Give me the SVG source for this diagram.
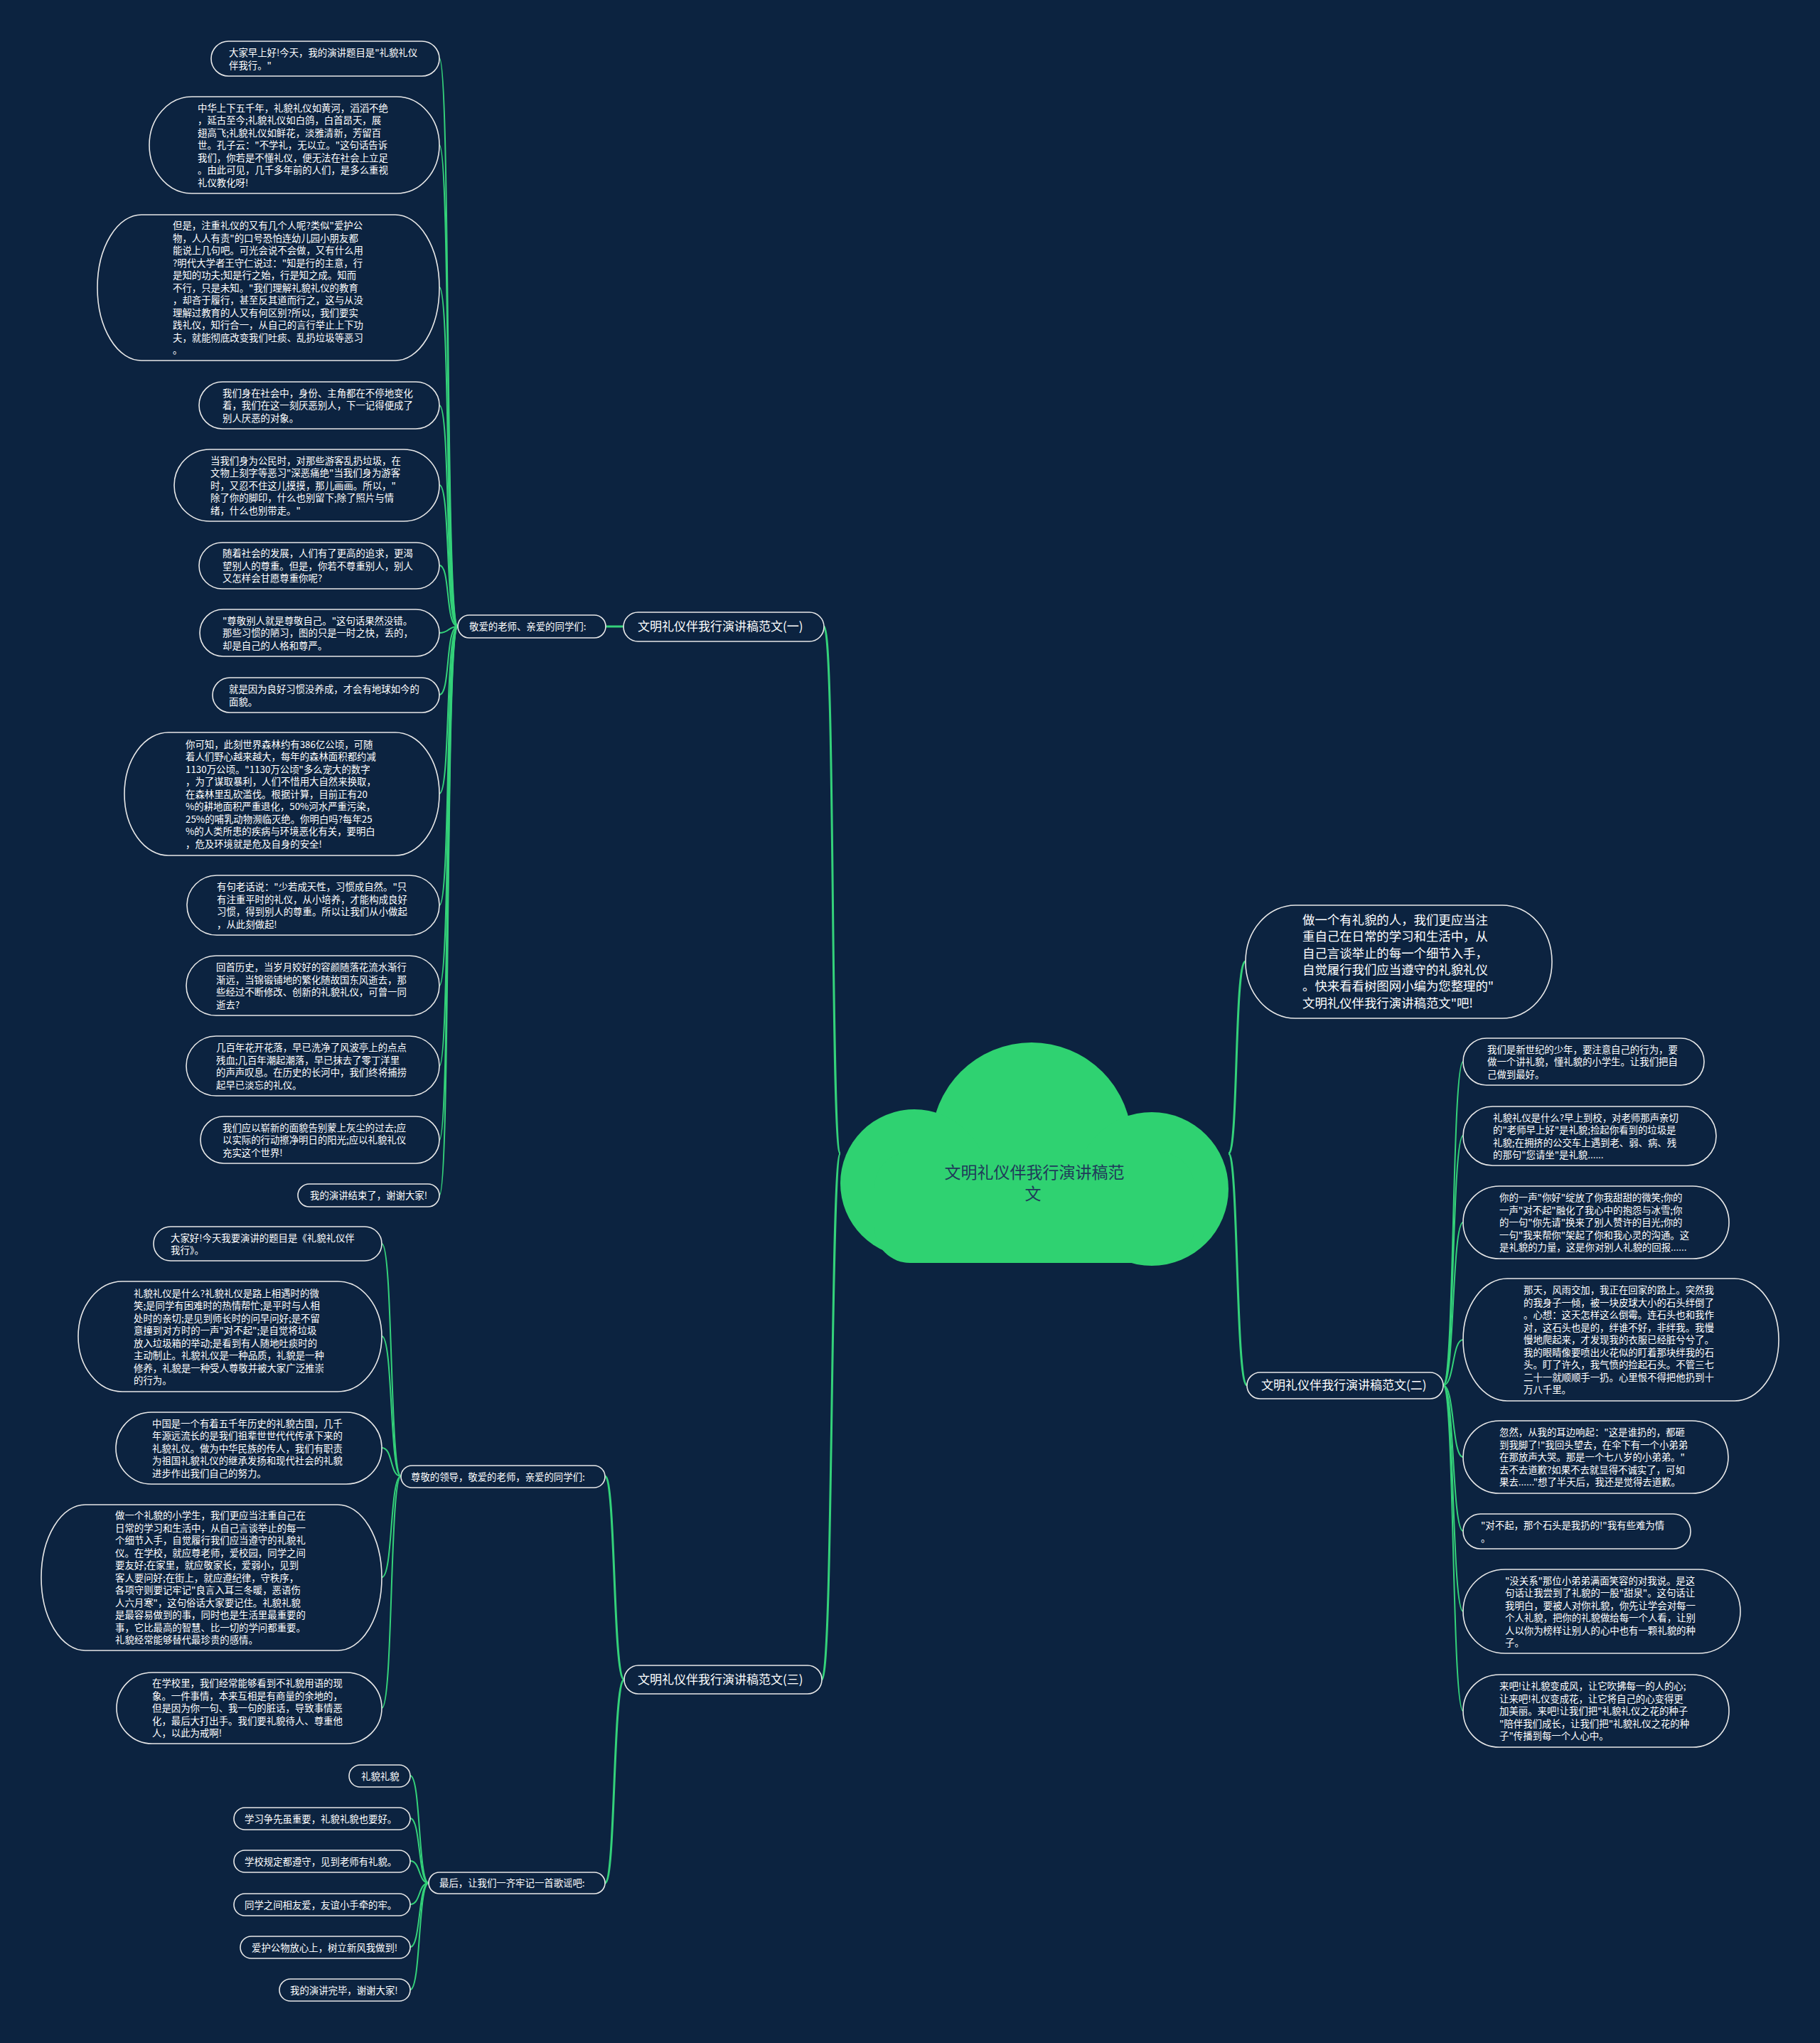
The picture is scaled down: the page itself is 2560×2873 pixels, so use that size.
<svg xmlns="http://www.w3.org/2000/svg" width="2560" height="2873" viewBox="0 0 2560 2873">
<style>
.bg{fill:#0c2340}
.n rect{fill:#0c2340;stroke:#e8e8e8;stroke-width:1.6}
.t{font-family:"Noto Sans CJK SC","Noto Sans",sans-serif;font-size:13.4px;fill:#ffffff}
.tb{font-family:"Noto Sans CJK SC","Noto Sans",sans-serif;font-size:17px;fill:#ffffff}
.tr{font-family:"Noto Sans CJK SC","Noto Sans",sans-serif;font-size:17.4px;fill:#ffffff}
.c path{fill:none;stroke:#34d27a;stroke-width:2}
.c path.k{stroke-width:3}
</style>
<rect class="bg" x="0" y="0" width="2560" height="2873"/>
<g id="connectors" class="c">
<path class="k" d="M1182 1622 C1168 1622 1175 881 1159 881"/>
<path class="k" d="M1182 1622 C1168 1622 1172 2362 1156 2362"/>
<path class="k" d="M1728 1622 C1742 1622 1736 1352 1752 1352"/>
<path class="k" d="M1728 1622 C1742 1622 1738 1948 1754 1948"/>
<path class="k" d="M877 881 L852 881"/>
<path class="k" d="M878 2362 C862 2362 866 2076 851 2076"/>
<path class="k" d="M878 2362 C862 2362 866 2648 851 2648"/>
<path d="M644 881 C626 881 634 82 618 82"/>
<path d="M644 881 C626 881 634 204 618 204"/>
<path d="M644 881 C626 881 634 404 618 404"/>
<path d="M644 881 C626 881 634 570 618 570"/>
<path d="M644 881 C626 881 634 682 618 682"/>
<path d="M644 881 C626 881 634 795 618 795"/>
<path d="M644 881 C630 881 632 890 618 890"/>
<path d="M644 881 C626 881 634 977 618 977"/>
<path d="M644 881 C626 881 634 1116 618 1116"/>
<path d="M644 881 C626 881 634 1273 618 1273"/>
<path d="M644 881 C626 881 634 1386 618 1386"/>
<path d="M644 881 C626 881 634 1499 618 1499"/>
<path d="M644 881 C626 881 634 1603 618 1603"/>
<path d="M644 881 C626 881 634 1681 618 1681"/>
<path d="M2030 1948 C2046 1948 2042 1493 2058 1493"/>
<path d="M2030 1948 C2046 1948 2042 1597 2058 1597"/>
<path d="M2030 1948 C2046 1948 2042 1719 2058 1719"/>
<path d="M2030 1948 C2046 1948 2042 1884 2058 1884"/>
<path d="M2030 1948 C2046 1948 2042 2049 2058 2049"/>
<path d="M2030 1948 C2046 1948 2042 2153 2058 2153"/>
<path d="M2030 1948 C2046 1948 2042 2266 2058 2266"/>
<path d="M2030 1948 C2046 1948 2042 2406 2058 2406"/>
<path d="M564 2076 C548 2076 553 1749 537 1749"/>
<path d="M564 2076 C548 2076 553 1879 537 1879"/>
<path d="M564 2076 C548 2076 553 2036 537 2036"/>
<path d="M564 2076 C548 2076 553 2218 537 2218"/>
<path d="M564 2076 C548 2076 553 2402 537 2402"/>
<path d="M603 2648 C588 2648 592 2497 577 2497"/>
<path d="M603 2648 C588 2648 592 2557 577 2557"/>
<path d="M603 2648 C588 2648 592 2617 577 2617"/>
<path d="M603 2648 C588 2648 592 2678 577 2678"/>
<path d="M603 2648 C588 2648 592 2738 577 2738"/>
<path d="M603 2648 C588 2648 592 2798 577 2798"/>
</g>
<g id="center">
<g fill="#2fd271">
<circle cx="1451" cy="1607" r="141"/>
<circle cx="1286" cy="1664" r="104"/>
<circle cx="1620" cy="1672" r="108"/>
<rect x="1230" y="1620" width="450" height="156" rx="50"/>
</g>
<text font-family="Noto Sans CJK SC, Noto Sans, sans-serif" font-size="23" fill="#1f3a5a" text-anchor="middle"><tspan x="1455" y="1657">文明礼仪伴我行演讲稿范</tspan><tspan x="1453" y="1687">文</tspan></text>
</g>
<g id="b1" class="n"><rect x="877" y="861" width="282" height="41" rx="20.5"/><text class="tb" x="897" y="887">文明礼仪伴我行演讲稿范文(一)</text></g>
<g id="b2" class="n"><rect x="1754" y="1930" width="276" height="37" rx="18.5"/><text class="tb" x="1774" y="1954">文明礼仪伴我行演讲稿范文(二)</text></g>
<g id="b3" class="n"><rect x="878" y="2342" width="278" height="40" rx="20"/><text class="tb" x="897" y="2368">文明礼仪伴我行演讲稿范文(三)</text></g>
<g id="l1" class="n"><rect x="644" y="865" width="208" height="32" rx="16"/><text class="t" x="660" y="886">敬爱的老师、亲爱的同学们:</text></g>
<g id="l3a" class="n"><rect x="564" y="2061" width="287" height="31" rx="15.5"/><text class="t" x="578" y="2081.5">尊敬的领导，敬爱的老师，亲爱的同学们:</text></g>
<g id="l3b" class="n"><rect x="603" y="2633" width="248" height="30" rx="15"/><text class="t" x="618" y="2653">最后，让我们一齐牢记一首歌谣吧:</text></g>
<g id="a1" class="n"><rect x="297" y="58" width="321" height="49" rx="24.5"/><text class="t" x="322" y="79"><tspan x="322">大家早上好!今天，我的演讲题目是"礼貌礼仪</tspan><tspan x="322" dy="17.5">伴我行。"</tspan></text></g>
<g id="a2" class="n"><rect x="210" y="136" width="408" height="136" rx="60" ry="68"/><text class="t" y="156.5"><tspan x="278">中华上下五千年，礼貌礼仪如黄河，滔滔不绝</tspan><tspan x="278" dy="17.5">，延古至今;礼貌礼仪如白鸽，白首昂天，展</tspan><tspan x="278" dy="17.5">翅高飞;礼貌礼仪如鲜花，淡雅清新，芳留百</tspan><tspan x="278" dy="17.5">世。孔子云："不学礼，无以立。"这句话告诉</tspan><tspan x="278" dy="17.5">我们，你若是不懂礼仪，便无法在社会上立足</tspan><tspan x="278" dy="17.5">。由此可见，几千多年前的人们，是多么重视</tspan><tspan x="278" dy="17.5">礼仪教化呀!</tspan></text></g>
<g id="a3" class="n"><rect x="137" y="302" width="481" height="205" rx="62" ry="102.5"/><text class="t" y="322"><tspan x="243">但是，注重礼仪的又有几个人呢?类似"爱护公</tspan><tspan x="243" dy="17.5">物，人人有责"的口号恐怕连幼儿园小朋友都</tspan><tspan x="243" dy="17.5">能说上几句吧。可光会说不会做，又有什么用</tspan><tspan x="243" dy="17.5">?明代大学者王守仁说过："知是行的主意，行</tspan><tspan x="243" dy="17.5">是知的功夫;知是行之始，行是知之成。知而</tspan><tspan x="243" dy="17.5">不行，只是未知。"我们理解礼貌礼仪的教育</tspan><tspan x="243" dy="17.5">，却吝于履行，甚至反其道而行之，这与从没</tspan><tspan x="243" dy="17.5">理解过教育的人又有何区别?所以，我们要实</tspan><tspan x="243" dy="17.5">践礼仪，知行合一，从自己的言行举止上下功</tspan><tspan x="243" dy="17.5">夫，就能彻底改变我们吐痰、乱扔垃圾等恶习</tspan><tspan x="243" dy="17.5">。</tspan></text></g>
<g id="a4" class="n"><rect x="280" y="537" width="338" height="66" rx="33"/><text class="t" y="557.5"><tspan x="313">我们身在社会中，身份、主角都在不停地变化</tspan><tspan x="313" dy="17.5">着，我们在这一刻厌恶别人，下一记得便成了</tspan><tspan x="313" dy="17.5">别人厌恶的对象。</tspan></text></g>
<g id="a5" class="n"><rect x="245" y="632" width="373" height="101" rx="50" ry="50.5"/><text class="t" y="652.5"><tspan x="296">当我们身为公民时，对那些游客乱扔垃圾，在</tspan><tspan x="296" dy="17.5">文物上刻字等恶习"深恶痛绝"当我们身为游客</tspan><tspan x="296" dy="17.5">时，又忍不住这儿摸摸，那儿画画。所以，"</tspan><tspan x="296" dy="17.5">除了你的脚印，什么也别留下;除了照片与情</tspan><tspan x="296" dy="17.5">绪，什么也别带走。"</tspan></text></g>
<g id="a6" class="n"><rect x="280" y="763" width="338" height="65" rx="32.5"/><text class="t" y="783"><tspan x="313">随着社会的发展，人们有了更高的追求，更渴</tspan><tspan x="313" dy="17.5">望别人的尊重。但是，你若不尊重别人，别人</tspan><tspan x="313" dy="17.5">又怎样会甘愿尊重你呢?</tspan></text></g>
<g id="a7" class="n"><rect x="281" y="857" width="337" height="66" rx="33"/><text class="t" y="877.5"><tspan x="313">"尊敬别人就是尊敬自己。"这句话果然没错。</tspan><tspan x="313" dy="17.5">那些习惯的陋习，图的只是一时之快，丢的，</tspan><tspan x="313" dy="17.5">却是自己的人格和尊严。</tspan></text></g>
<g id="a8" class="n"><rect x="299" y="953" width="319" height="49" rx="24.5"/><text class="t" y="974"><tspan x="322">就是因为良好习惯没养成，才会有地球如今的</tspan><tspan x="322" dy="17.5">面貌。</tspan></text></g>
<g id="a9" class="n"><rect x="175" y="1030" width="443" height="173" rx="62" ry="86.5"/><text class="t" y="1051.5"><tspan x="261">你可知，此刻世界森林约有386亿公顷，可随</tspan><tspan x="261" dy="17.5">着人们野心越来越大，每年的森林面积都约减</tspan><tspan x="261" dy="17.5">1130万公顷。"1130万公顷"多么宠大的数字</tspan><tspan x="261" dy="17.5">，为了谋取暴利，人们不惜用大自然来换取，</tspan><tspan x="261" dy="17.5">在森林里乱砍滥伐。根据计算，目前正有20</tspan><tspan x="261" dy="17.5">%的耕地面积严重退化，50%河水严重污染，</tspan><tspan x="261" dy="17.5">25%的哺乳动物濒临灭绝。你明白吗?每年25</tspan><tspan x="261" dy="17.5">%的人类所患的疾病与环境恶化有关，要明白</tspan><tspan x="261" dy="17.5">，危及环境就是危及自身的安全!</tspan></text></g>
<g id="a10" class="n"><rect x="263" y="1231" width="355" height="84" rx="42"/><text class="t" y="1252"><tspan x="305">有句老话说："少若成天性，习惯成自然。"只</tspan><tspan x="305" dy="17.5">有注重平时的礼仪，从小培养，才能构成良好</tspan><tspan x="305" dy="17.5">习惯，得到别人的尊重。所以让我们从小做起</tspan><tspan x="305" dy="17.5">，从此刻做起!</tspan></text></g>
<g id="a11" class="n"><rect x="262" y="1344" width="356" height="84" rx="42"/><text class="t" y="1365"><tspan x="304">回首历史，当岁月姣好的容颜随落花流水渐行</tspan><tspan x="304" dy="17.5">渐远，当锦锻铺地的繁化随故国东风逝去，那</tspan><tspan x="304" dy="17.5">些经过不断修改、创新的礼貌礼仪，可曾一同</tspan><tspan x="304" dy="17.5">逝去?</tspan></text></g>
<g id="a12" class="n"><rect x="262" y="1457" width="356" height="84" rx="42"/><text class="t" y="1478"><tspan x="304">几百年花开花落，早已洗净了风波亭上的点点</tspan><tspan x="304" dy="17.5">残血;几百年潮起潮落，早已抹去了零丁洋里</tspan><tspan x="304" dy="17.5">的声声叹息。在历史的长河中，我们终将捕捞</tspan><tspan x="304" dy="17.5">起早已淡忘的礼仪。</tspan></text></g>
<g id="a13" class="n"><rect x="282" y="1570" width="336" height="66" rx="33"/><text class="t" y="1590.5"><tspan x="313">我们应以崭新的面貌告别蒙上灰尘的过去;应</tspan><tspan x="313" dy="17.5">以实际的行动擦净明日的阳光;应以礼貌礼仪</tspan><tspan x="313" dy="17.5">充实这个世界!</tspan></text></g>
<g id="a14" class="n"><rect x="419" y="1665" width="199" height="32" rx="16"/><text class="t" x="436" y="1686">我的演讲结束了，谢谢大家!</text></g>
<g id="r0" class="n"><rect x="1752" y="1273" width="431" height="159" rx="70" ry="79.5"/><text class="tr" y="1300"><tspan x="1832">做一个有礼貌的人，我们更应当注</tspan><tspan x="1832" dy="23.3">重自己在日常的学习和生活中，从</tspan><tspan x="1832" dy="23.3">自己言谈举止的每一个细节入手，</tspan><tspan x="1832" dy="23.3">自觉履行我们应当遵守的礼貌礼仪</tspan><tspan x="1832" dy="23.3">。快来看看树图网小编为您整理的"</tspan><tspan x="1832" dy="23.3">文明礼仪伴我行演讲稿范文"吧!</tspan></text></g>
<g id="r1" class="n"><rect x="2058" y="1460" width="339" height="66" rx="33"/><text class="t" y="1480.5"><tspan x="2092">我们是新世纪的少年，要注意自己的行为，要</tspan><tspan x="2092" dy="17.5">做一个讲礼貌，懂礼貌的小学生。让我们把自</tspan><tspan x="2092" dy="17.5">己做到最好。</tspan></text></g>
<g id="r2" class="n"><rect x="2058" y="1556" width="356" height="83" rx="41.5"/><text class="t" y="1576.5"><tspan x="2100">礼貌礼仪是什么?早上到校，对老师那声亲切</tspan><tspan x="2100" dy="17.5">的"老师早上好"是礼貌;捡起你看到的垃圾是</tspan><tspan x="2100" dy="17.5">礼貌;在拥挤的公交车上遇到老、弱、病、残</tspan><tspan x="2100" dy="17.5">的那句"您请坐"是礼貌......</tspan></text></g>
<g id="r3" class="n"><rect x="2058" y="1668" width="374" height="102" rx="51"/><text class="t" y="1689"><tspan x="2109">你的一声"你好"绽放了你我甜甜的微笑;你的</tspan><tspan x="2109" dy="17.5">一声"对不起"融化了我心中的抱怨与冰雪;你</tspan><tspan x="2109" dy="17.5">的一句"你先请"换来了别人赞许的目光;你的</tspan><tspan x="2109" dy="17.5">一句"我来帮你"架起了你和我心灵的沟通。这</tspan><tspan x="2109" dy="17.5">是礼貌的力量，这是你对别人礼貌的回报......</tspan></text></g>
<g id="r4" class="n"><rect x="2058" y="1798" width="444" height="172" rx="62" ry="86"/><text class="t" y="1819"><tspan x="2143">那天，风雨交加，我正在回家的路上。突然我</tspan><tspan x="2143" dy="17.5">的我身子一倾，被一块皮球大小的石头绊倒了</tspan><tspan x="2143" dy="17.5">。心想：这天怎样这么倒霉。连石头也和我作</tspan><tspan x="2143" dy="17.5">对，这石头也是的，绊谁不好，非绊我。我慢</tspan><tspan x="2143" dy="17.5">慢地爬起来，才发现我的衣服已经脏兮兮了。</tspan><tspan x="2143" dy="17.5">我的眼睛像要喷出火花似的盯着那块绊我的石</tspan><tspan x="2143" dy="17.5">头。盯了许久，我气愤的捡起石头。不管三七</tspan><tspan x="2143" dy="17.5">二十一就顺顺手一扔。心里恨不得把他扔到十</tspan><tspan x="2143" dy="17.5">万八千里。</tspan></text></g>
<g id="r5" class="n"><rect x="2058" y="1998" width="373" height="102" rx="51"/><text class="t" y="2019"><tspan x="2109">忽然，从我的耳边响起："这是谁扔的，都砸</tspan><tspan x="2109" dy="17.5">到我脚了!"我回头望去，在伞下有一个小弟弟</tspan><tspan x="2109" dy="17.5">在那放声大哭。那是一个七八岁的小弟弟。"</tspan><tspan x="2109" dy="17.5">去不去道歉?如果不去就显得不诚实了，可如</tspan><tspan x="2109" dy="17.5">果去......"想了半天后，我还是觉得去道歉。</tspan></text></g>
<g id="r6" class="n"><rect x="2058" y="2129" width="320" height="49" rx="24.5"/><text class="t" y="2150"><tspan x="2083">"对不起，那个石头是我扔的!"我有些难为情</tspan><tspan x="2083" dy="17.5">。</tspan></text></g>
<g id="r7" class="n"><rect x="2058" y="2207" width="390" height="118" rx="59"/><text class="t" y="2227.5"><tspan x="2117">"没关系"那位小弟弟满面笑容的对我说。是这</tspan><tspan x="2117" dy="17.5">句话让我尝到了礼貌的一股"甜泉"。这句话让</tspan><tspan x="2117" dy="17.5">我明白，要被人对你礼貌，你先让学会对每一</tspan><tspan x="2117" dy="17.5">个人礼貌，把你的礼貌做给每一个人看，让别</tspan><tspan x="2117" dy="17.5">人以你为榜样让别人的心中也有一颗礼貌的种</tspan><tspan x="2117" dy="17.5">子。</tspan></text></g>
<g id="r8" class="n"><rect x="2058" y="2355" width="374" height="102" rx="51"/><text class="t" y="2376"><tspan x="2109">来吧!让礼貌变成风，让它吹拂每一的人的心;</tspan><tspan x="2109" dy="17.5">让来吧!礼仪变成花，让它将自己的心变得更</tspan><tspan x="2109" dy="17.5">加美丽。来吧!让我们把"礼貌礼仪之花的种子</tspan><tspan x="2109" dy="17.5">"陪伴我们成长，让我们把"礼貌礼仪之花的种</tspan><tspan x="2109" dy="17.5">子"传播到每一个人心中。</tspan></text></g>
<g id="c1" class="n"><rect x="216" y="1725" width="321" height="48" rx="24"/><text class="t" y="1745.5"><tspan x="240">大家好!今天我要演讲的题目是《礼貌礼仪伴</tspan><tspan x="240" dy="17.5">我行》。</tspan></text></g>
<g id="c2" class="n"><rect x="110" y="1802" width="427" height="155" rx="62" ry="77.5"/><text class="t" y="1823.5"><tspan x="188">礼貌礼仪是什么?礼貌礼仪是路上相遇时的微</tspan><tspan x="188" dy="17.5">笑;是同学有困难时的热情帮忙;是平时与人相</tspan><tspan x="188" dy="17.5">处时的亲切;是见到师长时的问早问好;是不留</tspan><tspan x="188" dy="17.5">意撞到对方时的一声"对不起";是自觉将垃圾</tspan><tspan x="188" dy="17.5">放入垃圾箱的举动;是看到有人随地吐痰时的</tspan><tspan x="188" dy="17.5">主动制止。礼貌礼仪是一种品质，礼貌是一种</tspan><tspan x="188" dy="17.5">修养，礼貌是一种受人尊敬并被大家广泛推崇</tspan><tspan x="188" dy="17.5">的行为。</tspan></text></g>
<g id="c3" class="n"><rect x="163" y="1986" width="374" height="101" rx="50" ry="50.5"/><text class="t" y="2006.5"><tspan x="214">中国是一个有着五千年历史的礼貌古国，几千</tspan><tspan x="214" dy="17.5">年源远流长的是我们祖辈世世代代传承下来的</tspan><tspan x="214" dy="17.5">礼貌礼仪。做为中华民族的传人，我们有职责</tspan><tspan x="214" dy="17.5">为祖国礼貌礼仪的继承发扬和现代社会的礼貌</tspan><tspan x="214" dy="17.5">进步作出我们自己的努力。</tspan></text></g>
<g id="c4" class="n"><rect x="58" y="2116" width="479" height="205" rx="62" ry="102.5"/><text class="t" y="2136"><tspan x="162">做一个礼貌的小学生，我们更应当注重自己在</tspan><tspan x="162" dy="17.5">日常的学习和生活中，从自己言谈举止的每一</tspan><tspan x="162" dy="17.5">个细节入手，自觉履行我们应当遵守的礼貌礼</tspan><tspan x="162" dy="17.5">仪。在学校，就应尊老师，爱校园，同学之间</tspan><tspan x="162" dy="17.5">要友好;在家里，就应敬家长，爱弱小，见到</tspan><tspan x="162" dy="17.5">客人要问好;在街上，就应遵纪律，守秩序，</tspan><tspan x="162" dy="17.5">各项守则要记牢记"良言入耳三冬暖，恶语伤</tspan><tspan x="162" dy="17.5">人六月寒"，这句俗话大家要记住。礼貌礼貌</tspan><tspan x="162" dy="17.5">是最容易做到的事，同时也是生活里最重要的</tspan><tspan x="162" dy="17.5">事，它比最高的智慧、比一切的学问都重要。</tspan><tspan x="162" dy="17.5">礼貌经常能够替代最珍贵的感情。</tspan></text></g>
<g id="c5" class="n"><rect x="164" y="2352" width="373" height="100" rx="50"/><text class="t" y="2372"><tspan x="214">在学校里，我们经常能够看到不礼貌用语的现</tspan><tspan x="214" dy="17.5">象。一件事情，本来互相是有商量的余地的，</tspan><tspan x="214" dy="17.5">但是因为你一句、我一句的脏话，导致事情恶</tspan><tspan x="214" dy="17.5">化，最后大打出手。我们要礼貌待人、尊重他</tspan><tspan x="214" dy="17.5">人，以此为戒啊!</tspan></text></g>
<g id="s1" class="n"><rect x="491" y="2482" width="86" height="31" rx="15.5"/><text class="t" x="508" y="2502.5">礼貌礼貌</text></g>
<g id="s2" class="n"><rect x="329" y="2542" width="248" height="31" rx="15.5"/><text class="t" x="344" y="2562.5">学习争先虽重要，礼貌礼貌也要好。</text></g>
<g id="s3" class="n"><rect x="329" y="2602" width="248" height="31" rx="15.5"/><text class="t" x="344" y="2622.5">学校规定都遵守，见到老师有礼貌。</text></g>
<g id="s4" class="n"><rect x="329" y="2663" width="248" height="31" rx="15.5"/><text class="t" x="344" y="2683.5">同学之间相友爱，友谊小手牵的牢。</text></g>
<g id="s5" class="n"><rect x="338" y="2723" width="239" height="31" rx="15.5"/><text class="t" x="354" y="2743.5">爱护公物放心上，树立新风我做到!</text></g>
<g id="s6" class="n"><rect x="393" y="2783" width="184" height="31" rx="15.5"/><text class="t" x="408" y="2803.5">我的演讲完毕，谢谢大家!</text></g>
</svg>
